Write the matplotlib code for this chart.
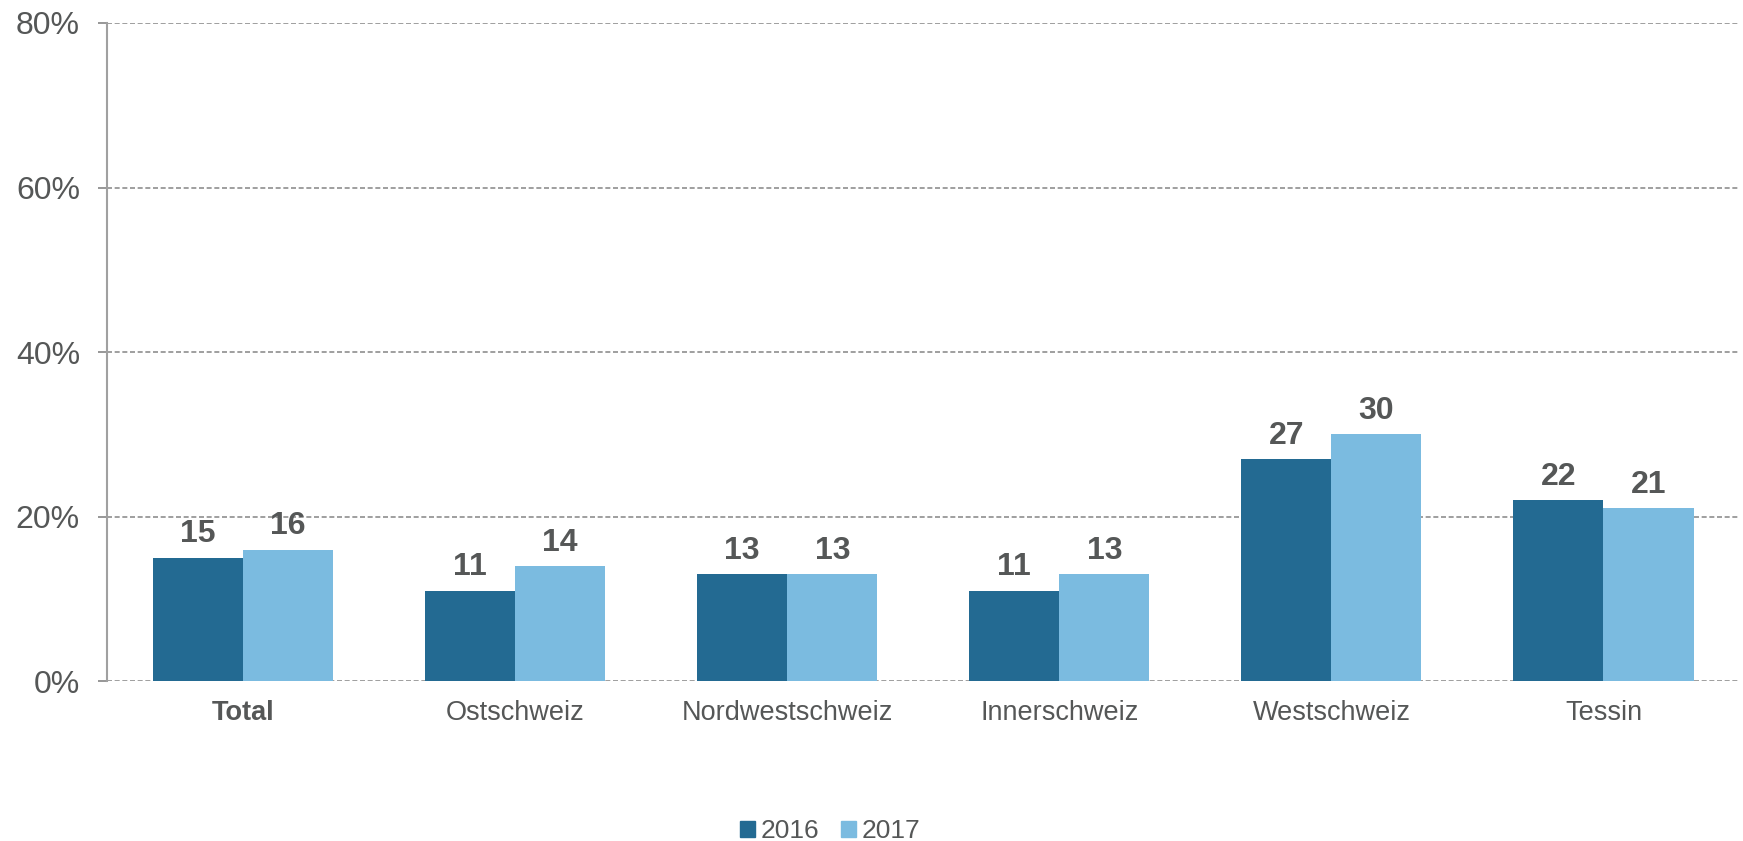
import matplotlib.pyplot as plt
import numpy as np
from matplotlib.patches import Patch

# data (percent)
categories = ['Total', 'Ostschweiz', 'Nordwestschweiz', 'Innerschweiz', 'Westschweiz', 'Tessin']
values_2016 = [15, 11, 13, 11, 27, 22]
values_2017 = [16, 14, 13, 13, 30, 21]
series_names = ['2016', '2017']
y_ticks = [0, 20, 40, 60, 80]

dark_blue = '#236a92'
light_blue = '#7bbbe0'
text_col = '#555757'
line_col = '#8f8f8f'

plt.rcParams['font.family'] = ['Liberation Sans', 'DejaVu Sans']

fig = plt.figure(figsize=(17.43, 8.41), dpi=100)
ax = fig.add_axes([0.0614, 0.190, 0.9366, 0.7827])

x = np.arange(len(categories))
width = 0.331

bars1 = ax.bar(x - width / 2, values_2016, width, color=dark_blue, zorder=3)
bars2 = ax.bar(x + width / 2, values_2017, width, color=light_blue, zorder=3)

#value labels above the bars
for bars in (bars1, bars2):
    ax.bar_label(bars, labels=[str(v) for v in bars.datavalues], padding=6,
                 fontsize=23, fontweight='bold', color=text_col)

ax.set_xlim(-0.5, len(categories) - 0.5)
ax.set_ylim(0, 80)
ax.set_yticks(y_ticks)
ax.set_yticklabels([f'{t}%' for t in y_ticks])
ax.set_xticks(x)
ax.set_xticklabels(categories)
ax.get_xticklabels()[0].set_fontweight('bold')

ax.tick_params(axis='y', labelsize=23, colors=line_col, labelcolor=text_col,
               length=6.5, width=1.3, pad=13)
ax.tick_params(axis='x', labelsize=19.5, labelcolor=text_col, length=0, pad=13.5)

ax.grid(axis='y', color=line_col, linestyle=(0, (3, 1.6)), linewidth=1.2, zorder=0)
for side in ['top', 'right', 'bottom']:
    ax.spines[side].set_visible(False)
ax.spines['left'].set_color('#a0a0a0')
ax.spines['left'].set_linewidth(1.5)

handles = [Patch(color=dark_blue), Patch(color=light_blue)]
fig.legend(handles, series_names, loc='center', bbox_to_anchor=(0.4765, 0.012),
           ncol=2, frameon=False, fontsize=19, labelcolor=text_col,
           handlelength=0.55, handleheight=0.55, handletextpad=0.23,
           columnspacing=0.82, borderpad=0)

fig.savefig('out.png', dpi=100)
